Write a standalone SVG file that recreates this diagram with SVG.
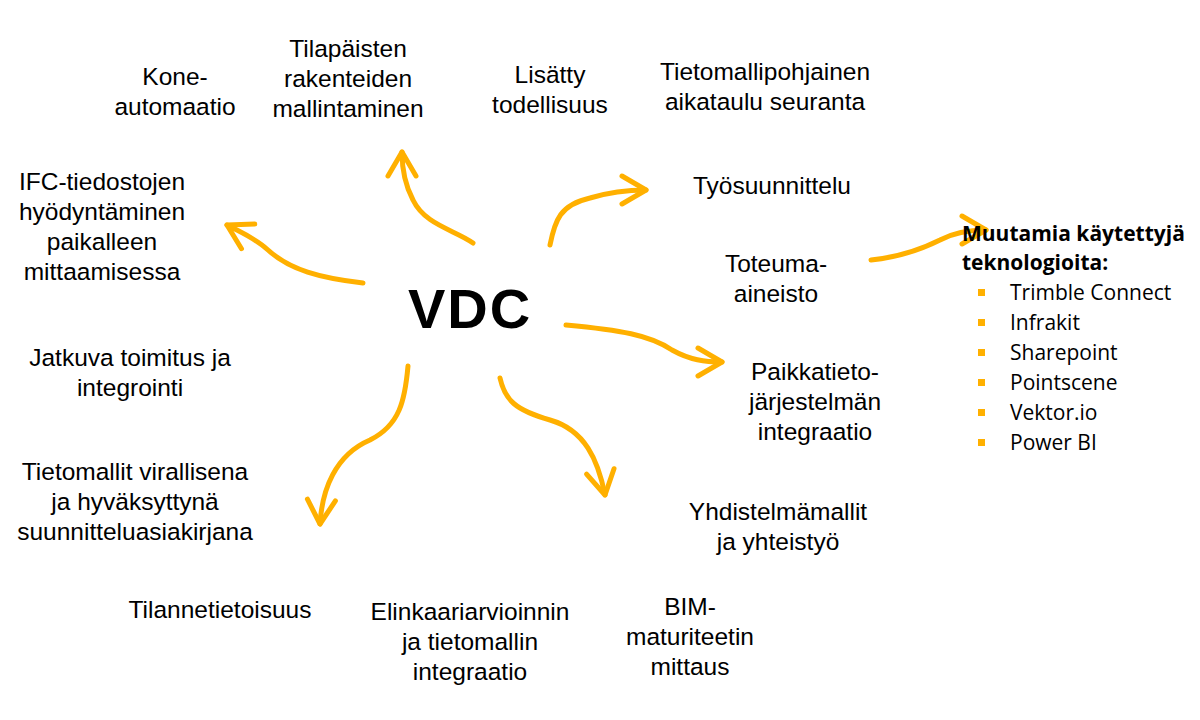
<svg xmlns="http://www.w3.org/2000/svg" width="1200" height="720" viewBox="0 0 1200 720">
<style>
text{font-family:"Liberation Sans",Arial,sans-serif;font-size:24.5px;fill:#000;text-anchor:middle}
.l{text-anchor:start;font-family:"Open Sans","Liberation Sans",sans-serif;font-size:21px}
.c{fill:none;stroke:#FFB000;stroke-width:5;stroke-linecap:round;stroke-linejoin:round}
</style>
<defs>
<marker id="a" viewBox="-4 -4 36 36" refX="24" refY="14" markerWidth="36" markerHeight="36" markerUnits="userSpaceOnUse" orient="auto" overflow="visible">
<path d="M0,0 L24,14 L0,28" fill="none" stroke="#FFB000" stroke-width="5" stroke-linecap="round" stroke-linejoin="round"/>
</marker>
</defs>
<rect width="1200" height="720" fill="#fff"/>
<g id="connectors">
<path class="c" marker-end="url(#a)" d="M473,243 C455,230 425,225 413,200 C405,185 402,170 402,152"/>
<path class="c" marker-end="url(#a)" d="M363,283 C320,278 290,270 268,250 C255,238 240,232 227,225"/>
<path class="c" marker-end="url(#a)" d="M550,245 C555,220 560,205 590,198 C610,192 628,190 646,190"/>
<path class="c" marker-end="url(#a)" d="M566,325 C620,330 650,335 672,350 C690,360 705,362 722,362"/>
<path class="c" marker-end="url(#a)" d="M500,378 C505,400 515,410 550,420 C585,430 598,460 605,495"/>
<path class="c" marker-end="url(#a)" d="M408,366 C405,400 400,425 370,440 C335,455 322,490 320,524"/>
<path class="c" marker-end="url(#a)" d="M871,260 C900,257 920,250 940,240 C955,232 970,230 986,230"/>
</g>
<g id="vdc"><text x="470" y="328" style="font-size:56px;font-weight:bold;letter-spacing:2px">VDC</text></g>
<g id="n1"><text x="175" y="85">Kone-</text><text x="175" y="115">automaatio</text></g>
<g id="n2"><text x="348" y="57">Tilapäisten</text><text x="348" y="87">rakenteiden</text><text x="348" y="117">mallintaminen</text></g>
<g id="n3"><text x="550" y="83">Lisätty</text><text x="550" y="113">todellisuus</text></g>
<g id="n4"><text x="765" y="80">Tietomallipohjainen</text><text x="765" y="110">aikataulu seuranta</text></g>
<g id="n5"><text x="772" y="194">Työsuunnittelu</text></g>
<g id="n6"><text x="776" y="272">Toteuma-</text><text x="776" y="302">aineisto</text></g>
<g id="n7"><text x="815" y="380">Paikkatieto-</text><text x="815" y="410">järjestelmän</text><text x="815" y="440">integraatio</text></g>
<g id="n8"><text x="778" y="520">Yhdistelmämallit</text><text x="778" y="550">ja yhteistyö</text></g>
<g id="n9"><text x="690" y="615">BIM-</text><text x="690" y="645">maturiteetin</text><text x="690" y="675">mittaus</text></g>
<g id="n10"><text x="470" y="620">Elinkaariarvioinnin</text><text x="470" y="650">ja tietomallin</text><text x="470" y="680">integraatio</text></g>
<g id="n11"><text x="220" y="618">Tilannetietoisuus</text></g>
<g id="n12"><text x="135" y="480">Tietomallit virallisena</text><text x="135" y="510">ja hyväksyttynä</text><text x="135" y="540">suunnitteluasiakirjana</text></g>
<g id="n13"><text x="130" y="366">Jatkuva toimitus ja</text><text x="130" y="396">integrointi</text></g>
<g id="n14"><text x="102" y="190">IFC-tiedostojen</text><text x="102" y="220">hyödyntäminen</text><text x="102" y="250">paikalleen</text><text x="102" y="280">mittaamisessa</text></g>
<g id="tech">
<text class="l" x="962" y="241" style="font-weight:bold">Muutamia käytettyjä</text>
<text class="l" x="962" y="270" style="font-weight:bold">teknologioita:</text>
<g fill="#FFB000"><rect x="978" y="289" width="7" height="7"/><rect x="978" y="319" width="7" height="7"/><rect x="978" y="349" width="7" height="7"/><rect x="978" y="379" width="7" height="7"/><rect x="978" y="409" width="7" height="7"/><rect x="978" y="439" width="7" height="7"/></g>
<text class="l" x="1010" y="300">Trimble Connect</text>
<text class="l" x="1010" y="330">Infrakit</text>
<text class="l" x="1010" y="360">Sharepoint</text>
<text class="l" x="1010" y="390">Pointscene</text>
<text class="l" x="1010" y="420">Vektor.io</text>
<text class="l" x="1010" y="450">Power BI</text>
</g>
</svg>
